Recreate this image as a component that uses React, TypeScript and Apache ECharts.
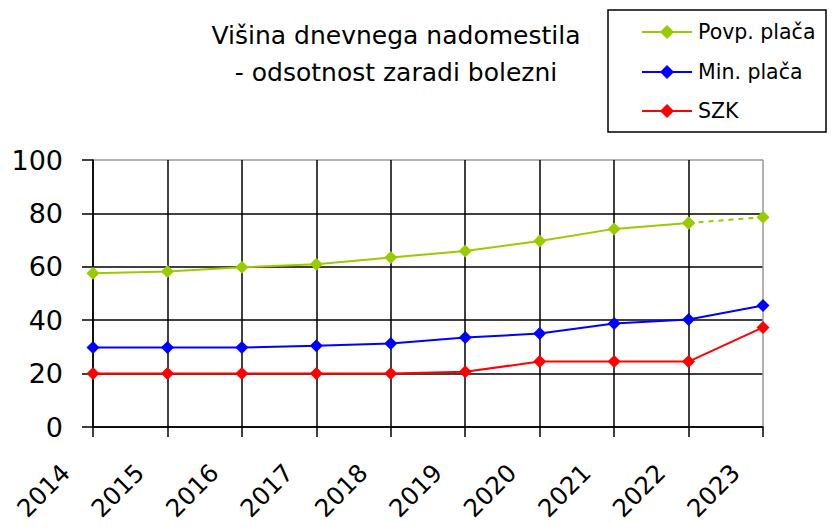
import React, { useEffect, useRef } from "react";
import * as echarts from "echarts";

const years = ["2014", "2015", "2016", "2017", "2018", "2019", "2020", "2021", "2022", "2023"];
const povpPlaca = [57.6, 58.2, 59.8, 61.0, 63.5, 65.9, 69.7, 74.2, 76.4, null];
const povpPlacaEstimate = [null, null, null, null, null, null, null, null, 76.4, 78.6];
const minPlaca = [29.8, 29.8, 29.8, 30.4, 31.3, 33.5, 35.0, 38.8, 40.3, 45.5];
const szk = [20.0, 20.0, 20.0, 20.0, 20.0, 20.7, 24.5, 24.5, 24.5, 37.3];
const yTicks = [0, 20, 40, 60, 80, 100];
const legendNames = ["Povp. plača", "Min. plača", "SZK"];

const FONT = "DejaVu Sans";
const GREEN = "#99cc00";
const BLUE = "#0000ff";
const RED = "#ff0000";
const legendColors = [GREEN, BLUE, RED];

export default function App() {
  const ref = useRef<HTMLDivElement>(null);
  useEffect(() => {
    if (!ref.current) return;
    const chart = echarts.init(ref.current, undefined, { renderer: "svg" });
    const lineSeries = (name: string, data: any[], color: string, dashed = false) => ({
      name,
      type: "line",
      data,
      symbol: "diamond",
      symbolSize: 13,
      showSymbol: true,
      connectNulls: false,
      itemStyle: { color },
      lineStyle: { color, width: 2, type: dashed ? [5, 5] : "solid" },
      emphasis: { disabled: true },
      z: 3,
    });

    const rowY = [32, 72, 111];
    const legendGraphics: any[] = [
      {
        type: "rect",
        shape: { x: 608, y: 10, width: 218, height: 122 },
        style: { fill: "#fff", stroke: "#000", lineWidth: 1.5 },
      },
    ];
    legendNames.forEach((name, i) => {
      const y = rowY[i];
      const c = legendColors[i];
      legendGraphics.push(
        { type: "line", shape: { x1: 642, y1: y, x2: 692, y2: y }, style: { stroke: c, lineWidth: 2 } },
        {
          type: "polygon",
          shape: { points: [[667, y - 7], [674, y], [667, y + 7], [660, y]] },
          style: { fill: c },
        },
        {
          type: "text",
          x: 698,
          y,
          style: { text: name, fontFamily: FONT, fontSize: 20.5, fill: "#000", verticalAlign: "middle", align: "left" },
        }
      );
    });

    chart.setOption({
      animation: false,
      textStyle: { fontFamily: FONT },
      title: {
        text: "Višina dnevnega nadomestila\n- odsotnost zaradi bolezni",
        left: 391,
        top: 12,
        textAlign: "center",
        textStyle: {
          fontFamily: FONT,
          fontSize: 25,
          fontWeight: "normal",
          color: "#000",
          lineHeight: 37,
        },
      },
      graphic: legendGraphics,
      grid: { left: 93, right: 73, top: 160, bottom: 103, containLabel: false },
      xAxis: {
        type: "category",
        data: years,
        boundaryGap: false,
        axisLine: { lineStyle: { color: "#000", width: 1.5 } },
        axisTick: { show: true, alignWithLabel: true, length: 10, lineStyle: { color: "#000", width: 1.5 } },
        axisLabel: {
          rotate: 45,
          margin: 14,
          padding: [0, 39, 0, 0],
          fontFamily: FONT,
          fontSize: 24.5,
          color: "#000",
          interval: 0,
        },
        splitLine: {
          show: true,
          lineStyle: {
            color: ["#000", "#000", "#000", "#000", "#000", "#000", "#000", "#000", "#000", "#999"],
            width: 1.5,
          },
        },
      },
      yAxis: {
        type: "value",
        min: 0,
        max: 100,
        interval: 20,
        axisLine: { show: true, lineStyle: { color: "#000", width: 1.5 } },
        axisTick: { show: true, length: 11, lineStyle: { color: "#000", width: 1.5 } },
        axisLabel: {
          margin: 30,
          fontFamily: FONT,
          fontSize: 27,
          color: "#000",
          formatter: (v: number) => (yTicks.includes(v) ? String(v) : ""),
        },
        splitLine: {
          show: true,
          lineStyle: { color: ["#000", "#000", "#000", "#000", "#000", "#999"], width: 1.5 },
        },
      },
      series: [
        lineSeries("Povp. plača", povpPlaca, GREEN),
        lineSeries("Povp. plača", povpPlacaEstimate, GREEN, true),
        lineSeries("Min. plača", minPlaca, BLUE),
        lineSeries("SZK", szk, RED),
      ],
    });
    return () => chart.dispose();
  }, []);
  return <div ref={ref} style={{ width: 836, height: 530, position: "absolute", left: 0, top: 0 }} />;
}
